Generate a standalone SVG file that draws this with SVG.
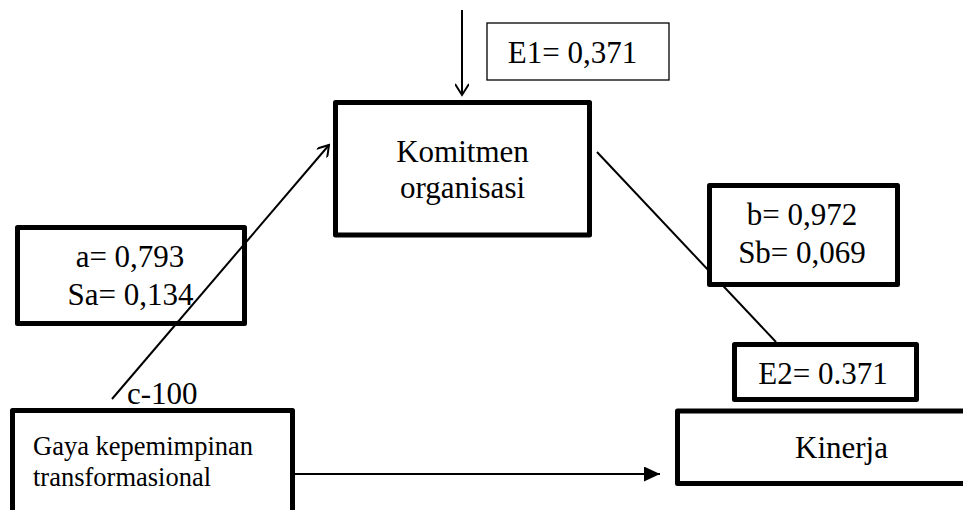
<svg xmlns="http://www.w3.org/2000/svg" width="963" height="510" viewBox="0 0 963 510">
<style>
.box{fill:#fff;stroke:#000;stroke-width:5;stroke-linejoin:round}
.thin{fill:#fff;stroke:#000;stroke-width:1.3}
.t{font-family:"Liberation Serif","Times New Roman",serif;font-size:31px;fill:#000}
.m{text-anchor:middle}
.ln{stroke:#000;stroke-width:2;fill:none}
</style>
<defs>
<marker id="open" markerWidth="14" markerHeight="14" refX="12" refY="7" orient="auto" markerUnits="userSpaceOnUse">
<path d="M1,0 L12,7 L1,14" fill="none" stroke="#000" stroke-width="2"/>
</marker>
<marker id="solid" markerWidth="17" markerHeight="15" refX="16" refY="7.5" orient="auto" markerUnits="userSpaceOnUse">
<path d="M0,0 L16,7.5 L0,15 Z" fill="#000"/>
</marker>
</defs>
<rect width="963" height="510" fill="#fff"/>
<g id="connectors">
<line class="ln" x1="462" y1="10" x2="462" y2="95" marker-end="url(#open)"/>
<line class="ln" x1="112" y1="399" x2="329" y2="145" marker-end="url(#open)"/>
<line class="ln" x1="597" y1="152" x2="776" y2="342"/>
<line class="ln" x1="293" y1="474" x2="660" y2="474" marker-end="url(#solid)"/>
</g>
<g id="e1">
<rect class="thin" x="487" y="23" width="182" height="57"/>
<text class="t m" x="572.5" y="63">E1= 0,371</text>
</g>
<g id="komitmen">
<rect class="box" x="335.5" y="102.5" width="254" height="132.5"/>
<text class="t m" x="462.5" y="162">Komitmen</text>
<text class="t m" x="462.5" y="198">organisasi</text>
</g>
<g id="label-a">
<rect class="box" x="17.5" y="227.5" width="227" height="96" style="fill:none"/>
<text class="t m" x="130" y="267">a= 0,793</text>
<text class="t m" x="130.5" y="305">Sa= 0,134</text>
</g>
<g id="label-b">
<rect class="box" x="709.5" y="185.5" width="188" height="99"/>
<text class="t m" x="802" y="225">b= 0,972</text>
<text class="t m" x="802" y="263">Sb= 0,069</text>
</g>
<g id="e2">
<rect class="box" x="734.5" y="344.5" width="182" height="55"/>
<text class="t m" x="823" y="384">E2= 0.371</text>
</g>
<g id="c100">
<text class="t" x="127" y="404">c-100</text>
</g>
<g id="gaya">
<rect class="box" x="12.5" y="410.5" width="280" height="120"/>
<text class="t" style="font-size:26.5px" x="33" y="455">Gaya kepemimpinan</text>
<text class="t" style="font-size:26.5px" x="33" y="486">transformasional</text>
</g>
<g id="kinerja">
<rect class="box" x="677.5" y="411" width="300" height="72.5"/>
<text class="t m" x="841.5" y="458">Kinerja</text>
</g>
</svg>
